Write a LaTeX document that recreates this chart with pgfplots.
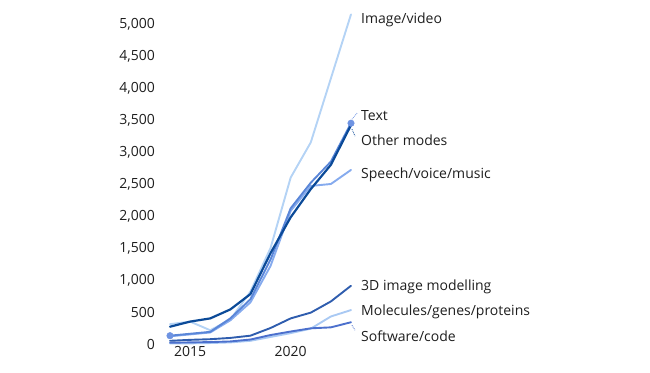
\documentclass[border=0pt]{standalone}
\usepackage{fontspec}
\setmainfont{Open Sans}
\usepackage{pgfplots}
\pgfplotsset{compat=1.18}
\definecolor{cImg}{HTML}{B4D3F5}
\definecolor{cText}{HTML}{0B4A98}
\definecolor{cOther}{HTML}{5A86D8}
\definecolor{cSpeech}{HTML}{86ABEE}
\definecolor{c3D}{HTML}{2F5DAE}
\definecolor{cMol}{HTML}{A9C9F3}
\definecolor{cSoft}{HTML}{4C70CD}
\definecolor{cDot}{HTML}{6E93E2}
\definecolor{cLab}{HTML}{1E1E1E}
\begin{document}
\fontsize{14bp}{16bp}\selectfont
\begin{tikzpicture}
\path[use as bounding box] (-170bp,-29bp) rectangle (480bp,344bp);
\begin{axis}[
  at={(0,0)}, anchor=south west,
  scale only axis,
  width=181bp, height=332.8bp,
  xmin=2014, xmax=2023, ymin=0, ymax=5200,
  clip=false,
  axis line style={draw=none},
  major tick length=0pt,
  tick style={draw=none},
  xtick={2015,2020},
  ytick={0,500,1000,1500,2000,2500,3000,3500,4000,4500,5000},
  tick label style={font=\fontsize{14bp}{16bp}\selectfont, text=cLab, inner sep=0pt},
  /pgf/number format/assume math mode=true,
  yticklabel style={/pgf/number format/1000 sep={,}, anchor=east, xshift=-15bp},
  xticklabel style={/pgf/number format/1000 sep={}, anchor=north, yshift=-2.5bp},
  every axis plot/.append style={line join=round, line cap=round},
]
% Image/video
\addplot[cImg, line width=1.9bp, mark=none] coordinates {(2014,310)(2015,350)(2016,215)(2017,380)(2018,820)(2019,1500)(2020,2600)(2021,3150)(2022,4150)(2023,5150)};
% Speech
\addplot[cSpeech, line width=1.9bp, mark=none] coordinates {(2014,120)(2015,150)(2016,180)(2017,370)(2018,650)(2019,1220)(2020,2080)(2021,2470)(2022,2500)(2023,2720)};
% Other modes
\addplot[cOther, line width=1.9bp, mark=none] coordinates {(2014,130)(2015,160)(2016,190)(2017,400)(2018,700)(2019,1320)(2020,2120)(2021,2520)(2022,2850)(2023,3450)};
% Text
\addplot[cText, line width=2.2bp, mark=none] coordinates {(2014,270)(2015,350)(2016,400)(2017,540)(2018,780)(2019,1420)(2020,1980)(2021,2420)(2022,2800)(2023,3420)};
% Molecules
\addplot[cMol, line width=1.9bp, mark=none] coordinates {(2014,10)(2015,10)(2016,15)(2017,25)(2018,50)(2019,110)(2020,170)(2021,240)(2022,430)(2023,530)};
% Software
\addplot[cSoft, line width=1.9bp, mark=none] coordinates {(2014,20)(2015,25)(2016,30)(2017,40)(2018,70)(2019,140)(2020,195)(2021,245)(2022,260)(2023,340)};
% 3D
\addplot[c3D, line width=1.9bp, mark=none] coordinates {(2014,50)(2015,65)(2016,75)(2017,95)(2018,130)(2019,250)(2020,400)(2021,490)(2022,665)(2023,910)};
% highlighted endpoints
\addplot[only marks, mark=*, mark size=3.3bp, cDot, mark options={draw=cDot, fill=cDot}] coordinates {(2014,130)(2023,3450)};
% connectors
\draw[densely dotted, cDot, line width=0.8bp] (axis cs:2023,3450) ++(1bp,4bp) -- ++(5bp,6bp);
\draw[densely dotted, cText, line width=0.8bp] (axis cs:2023,3420) ++(1bp,-4bp) -- ++(3bp,-7bp);
\draw[densely dotted, cSoft, line width=0.8bp] (axis cs:2023,340) ++(1bp,-3bp) -- ++(3bp,-5bp);
% labels
\tikzset{lab/.style={anchor=base west, inner sep=0pt, text=cLab, font=\fontsize{14bp}{16bp}\selectfont}}
\node[lab] at (axis cs:2023,5005) [xshift=10bp] {Image/video};
\node[lab] at (axis cs:2023,3490) [xshift=10bp] {Text};
\node[lab] at (axis cs:2023,3095) [xshift=10bp] {Other modes};
\node[lab] at (axis cs:2023,2585) [xshift=10bp] {Speech/voice/music};
\node[lab] at (axis cs:2023,840) [xshift=10bp] {3D image modelling};
\node[lab] at (axis cs:2023,450) [xshift=10bp] {Molecules/genes/proteins};
\node[lab] at (axis cs:2023,40) [xshift=10bp] {Software/code};
\end{axis}
\end{tikzpicture}
\end{document}
